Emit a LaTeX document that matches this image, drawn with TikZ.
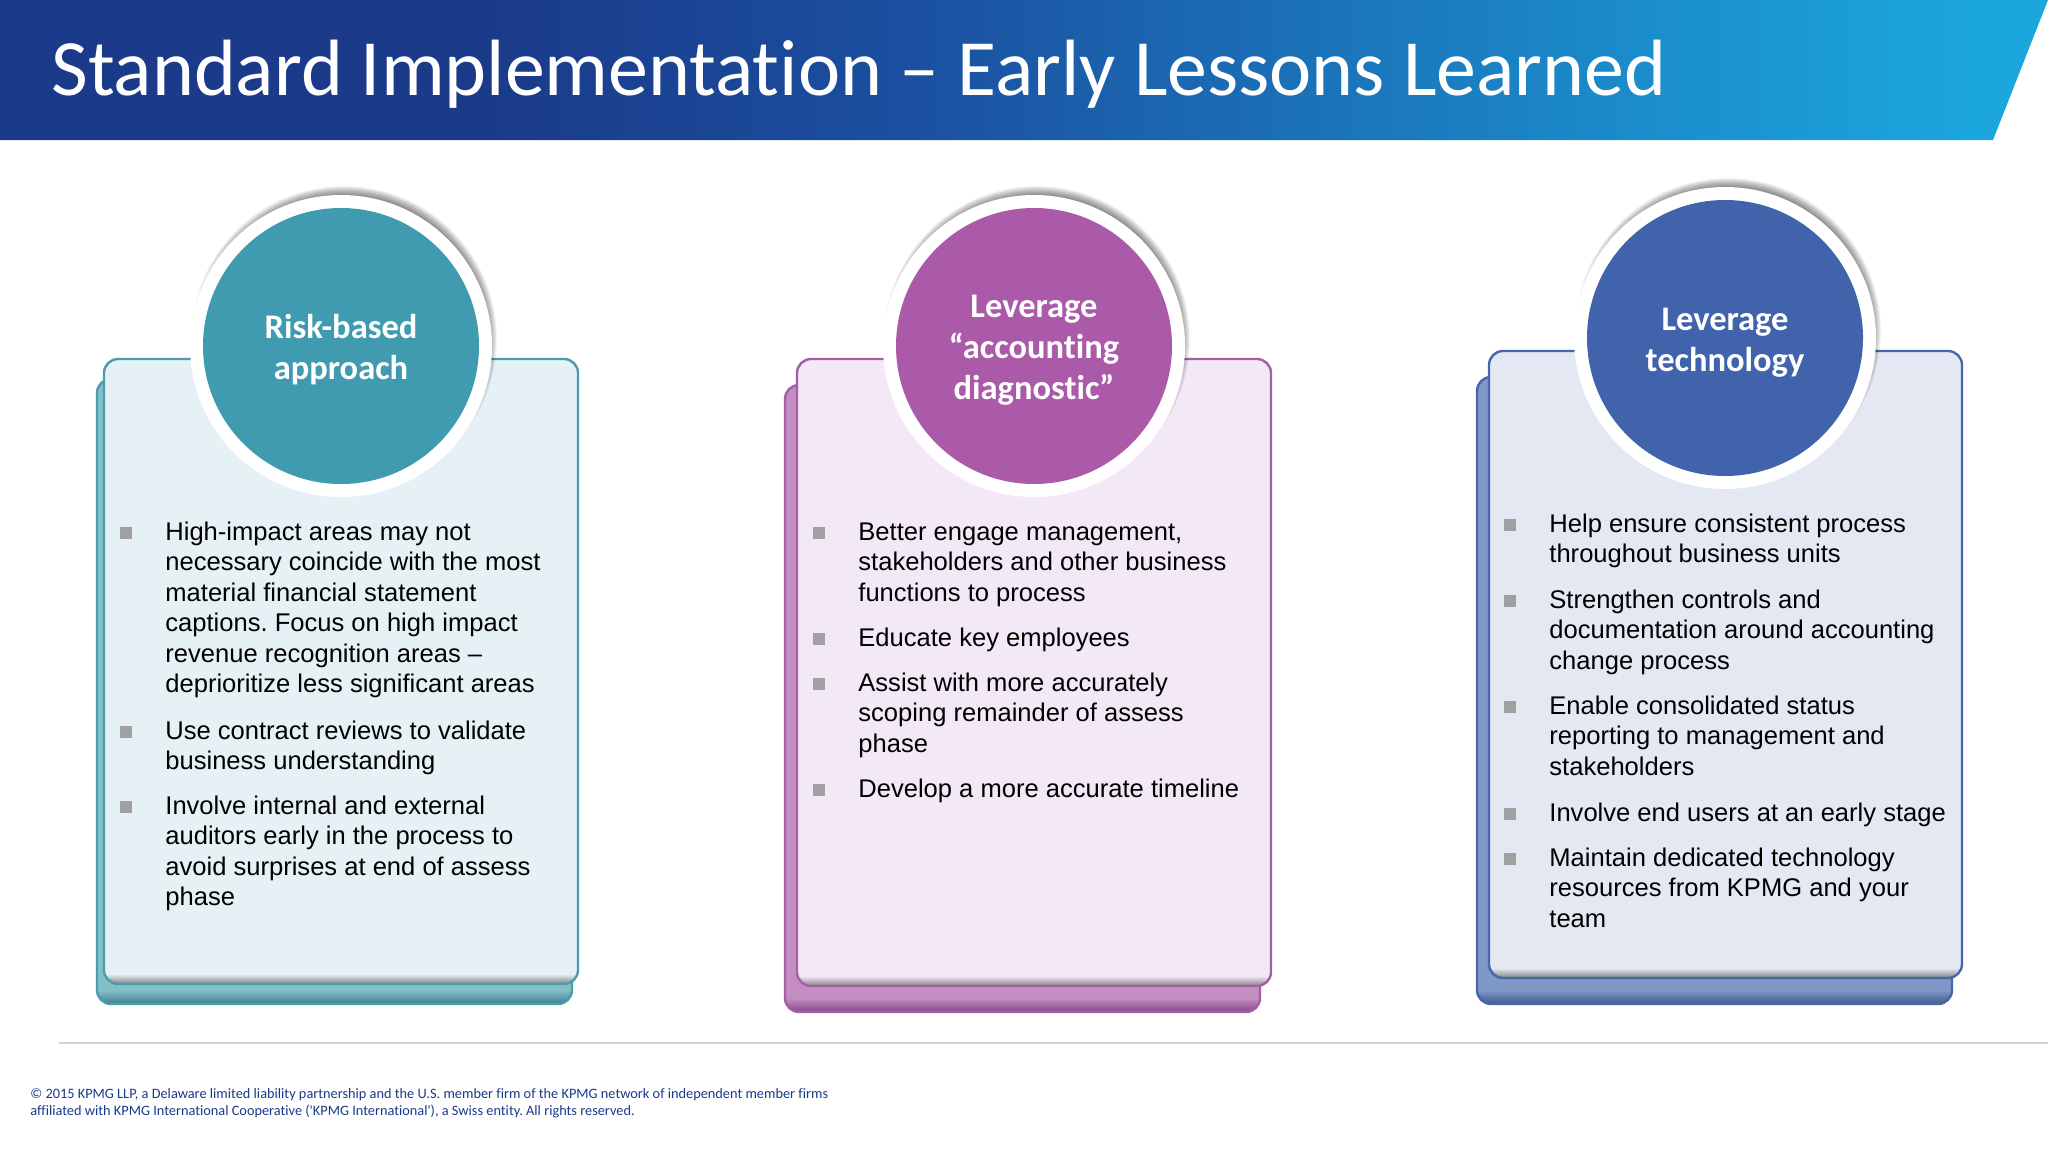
\documentclass[tikz,border=0pt]{standalone}
\usepackage{fontspec}
\setmainfont{Liberation Sans}
\newfontfamily\carlito[Ligatures={NoCommon}]{Carlito}
\usetikzlibrary{calc}
\definecolor{tealfill}{HTML}{E6F1F5}\definecolor{tealedge}{HTML}{4A9DAE}\definecolor{tealback}{HTML}{84BFC8}\definecolor{tealdark}{HTML}{3F7F8F}\definecolor{tealdisc}{HTML}{419BB0}
\definecolor{purpfill}{HTML}{F3E8F6}\definecolor{purpedge}{HTML}{A85DA8}\definecolor{purpback}{HTML}{C48EC2}\definecolor{purpdark}{HTML}{84488A}\definecolor{purpdisc}{HTML}{AB5AA9}
\definecolor{bluefill}{HTML}{E4E8F3}\definecolor{blueedge}{HTML}{4568AC}\definecolor{blueback}{HTML}{7F98C6}\definecolor{bluedark}{HTML}{41598C}\definecolor{bluedisc}{HTML}{4063AB}
\definecolor{footblue}{HTML}{1B3A8C}
\definecolor{rulegray}{HTML}{D2D2D6}
\definecolor{bulgray}{HTML}{A0A0A2}
\definecolor{bannerA}{HTML}{1B3A8A}\definecolor{bannerB}{HTML}{1B4F9F}\definecolor{bannerC}{HTML}{1B7CC0}\definecolor{bannerD}{HTML}{1BA6DD}
\pgfdeclarehorizontalshading{bannershade}{100bp}{
  color(0bp)=(bannerA);color(25bp)=(bannerA);color(37bp)=(bannerA);color(47bp)=(bannerB);color(60bp)=(bannerC);color(73bp)=(bannerD);color(100bp)=(bannerD)}
\tikzset{
  x=0.5pt,y=-0.5pt,
  bodytext/.style={anchor=north west,inner sep=0pt,align=left,font=\frenchspacing\fontsize{12.78pt}{15.25pt}\selectfont,text=black},
  bulletbox/.style={fill=bulgray,inner sep=0pt,minimum width=6pt,minimum height=6.4pt},
  headtext/.style={align=center,yshift=-2pt,font=\carlito\bfseries\fontsize{17.25pt}{20.5pt}\selectfont,text=white},
  disc/.style={circle,inner sep=0pt,minimum size=138pt},
  halo/.style={circle,fill=white,inner sep=0pt,minimum size=151pt},
  foottext/.style={anchor=base west,inner sep=0pt,text=footblue,font=\frenchspacing\carlito\fontsize{7.16pt}{8pt}\selectfont},
}
% prefix, back x0,y0,x1,y1, front x0,y0,x1,y1
\newcommand{\cardpair}[9]{
  \fill[#1back,rounded corners=7pt] (#2,#3) rectangle (#4,#5);
  \begin{scope}
    \clip[rounded corners=7pt] (#2,#3) rectangle (#4,#5);
    \shade[top color=#1back,bottom color=#1dark] ({#2},{#5-14}) rectangle (#4,#5);
  \end{scope}
  \draw[#1edge,line width=1.2pt,rounded corners=7pt] (#2,#3) rectangle (#4,#5);
  \fill[#1fill,rounded corners=7pt] (#6,#7) rectangle (#8,#9);
  \begin{scope}
    \clip[rounded corners=7pt] (#6,#7) rectangle (#8,#9);
    \shade[top color=#1fill,bottom color=gray] ({#6},{#9-10}) rectangle (#8,#9);
  \end{scope}
  \draw[#1edge,line width=1.2pt,rounded corners=7pt] (#6,#7) rectangle (#8,#9);
}
% centre x,y
\newcommand{\discshadow}[2]{
  \foreach \r in {0,1,...,11}{
    \fill[black,opacity=0.05] ({#1+3},{#2-7}) circle ({71.5pt+0.45pt*\r});
  }
}
% name, bullet x, text x, first baseline, text
\newcommand{\bulleted}[5]{
  \node[bulletbox] (b#1) at (#2,{#4-7}) {};
  \node[bodytext] (t#1) at (#3,{#4-20}) {\rule{0pt}{10pt}#5};
}
\begin{document}
\begin{tikzpicture}
\useasboundingbox (0,0) rectangle (2048,1152);
\fill[white] (0,0) rectangle (2048,1152);
% banner
\shade[shading=bannershade] (0,0) -- (2048,0) -- (1993,140) -- (0,140) -- cycle;
\node[anchor=base west,inner sep=0pt,text=white,font=\carlito\fontsize{39.93pt}{46pt}\selectfont] (title) at (51,95) {Standard Implementation – Early Lessons Learned};
% cards
\cardpair{teal}{97}{379}{572}{1004}{104}{359}{578}{984}
\cardpair{purp}{785}{385}{1260}{1012}{797}{359}{1271}{986}
\cardpair{blue}{1477}{377}{1952}{1004}{1489}{351}{1962}{978}
% discs
\discshadow{341}{346}
\node[halo] (h1) at (341,346) {};
\node[disc,fill=tealdisc] (d1) at (341,346) {};
\node[headtext] (c1) at (d1) {Risk-based\\approach};
\discshadow{1034}{346}
\node[halo] (h2) at (1034,346) {};
\node[disc,fill=purpdisc] (d2) at (1034,346) {};
\node[headtext] (c2) at (d2) {Leverage\\“accounting\\diagnostic”};
\discshadow{1725}{338}
\node[halo] (h3) at (1725,338) {};
\node[disc,fill=bluedisc] (d3) at (1725,338) {};
\node[headtext,yshift=-0.5pt] (c3) at (d3) {Leverage\\technology};
% column 1
\bulleted{a1}{126}{165}{540}{High-impact areas may not\\necessary coincide with the most\\material financial statement\\captions. Focus on high impact\\revenue recognition areas –\\deprioritize less significant areas}
\bulleted{a2}{126}{165}{739}{Use contract reviews to validate\\business understanding}
\bulleted{a3}{126}{165}{814}{Involve internal and external\\auditors early in the process to\\avoid surprises at end of assess\\phase}
% column 2
\bulleted{m1}{819}{858}{540}{Better engage management,\\stakeholders and other business\\functions to process}
\bulleted{m2}{819}{858}{646}{Educate key employees}
\bulleted{m3}{819}{858}{691}{Assist with more accurately\\scoping remainder of assess\\phase}
\bulleted{m4}{819}{858}{797}{Develop a more accurate timeline}
% column 3
\bulleted{r1}{1510}{1549}{532}{Help ensure consistent process\\throughout business units}
\bulleted{r2}{1510}{1549}{608}{Strengthen controls and\\documentation around accounting\\change process}
\bulleted{r3}{1510}{1549}{714}{Enable consolidated status\\reporting to management and\\stakeholders}
\bulleted{r4}{1510}{1549}{821}{Involve end users at an early stage}
\bulleted{r5}{1510}{1549}{866}{Maintain dedicated technology\\resources from KPMG and your\\team}
% footer
\coordinate (rulestart) at (59,1043);
\coordinate (ruleend) at (2048,1043);
\draw[rulegray,line width=0.8pt] (rulestart) -- (ruleend);
\node[foottext] (f1) at (30,1098) {© 2015 KPMG LLP, a Delaware limited liability partnership and the U.S. member firm of the KPMG network of independent member firms};
\node[foottext] (f2) at (30,1115) {affiliated with KPMG International Cooperative ('KPMG International'), a Swiss entity. All rights reserved.};
\end{tikzpicture}
\end{document}
